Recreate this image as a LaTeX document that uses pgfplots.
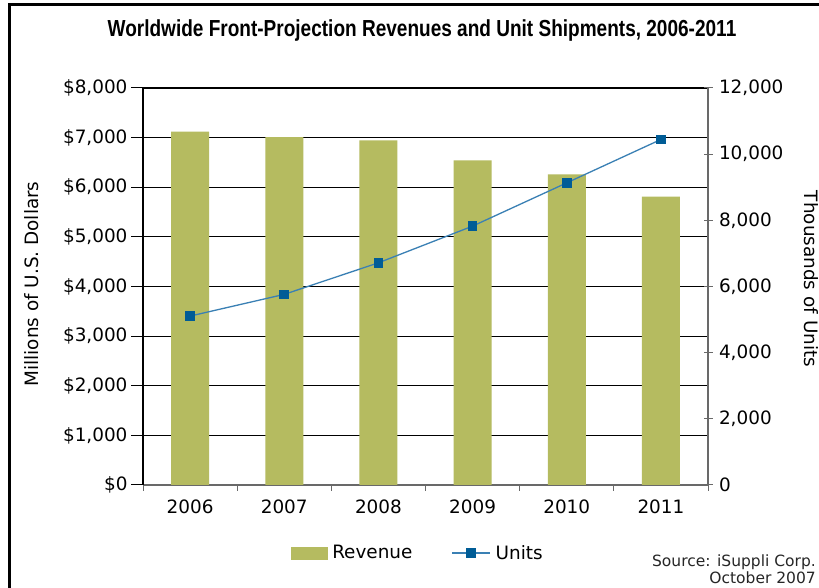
\documentclass[border=0pt]{standalone}
\usepackage{pgfplots}
\pgfplotsset{compat=1.18}
\usepackage{fontspec}
\setmainfont{DejaVu Sans}
\newfontfamily\titlefont{Liberation Sans}
\definecolor{barc}{RGB}{181,187,96}
\definecolor{linec}{RGB}{58,128,180}
\definecolor{markc}{RGB}{0,92,150}
\definecolor{axgray}{RGB}{105,105,105}
\pgfplotstableread{
x rev units
0 7120 5106
1 7010 5762
2 6946 6716
3 6543 7825
4 6261 9133
5 5810 10444
}\datatable
\begin{document}
\begin{tikzpicture}[x=1pt,y=1pt]
\useasboundingbox (0,0) rectangle (819,588);
\fill[white] (0,0) rectangle (819,588);
\draw[line width=3pt] (9,0) -- (9,583) -- (819,583);
\node at (422,557) {\scalebox{0.82}[1]{\titlefont\bfseries\fontsize{23.2}{23}\selectfont Worldwide Front-Projection Revenues and Unit Shipments, 2006-2011}};
\begin{axis}[
  at={(143pt,103pt)}, anchor=south west, scale only axis,
  width=565pt, height=397pt,
  xmin=-0.5, xmax=5.5, ymin=0, ymax=8000,
  axis x line*=bottom, axis y line*=left,
  axis line style={-, line width=1.2pt},
  x axis line style={axgray},
  y axis line style={black},
  xtick={-0.5,0.5,...,5.5}, xticklabels={},
  xtick style={axgray, line width=1pt, /pgfplots/tick align=outside, /pgfplots/major tick length=6pt},
  extra x ticks={0,1,2,3,4,5},
  extra x tick labels={2006,2007,2008,2009,2010,2011},
  extra x tick style={major tick length=0pt, tick style={draw=none}},
  ytick={0,1000,...,8000},
  ytick style={black, line width=1pt},
  tick align=outside, major tick length=12pt,
  ymajorgrids, grid style={black, line width=1.1pt},
  yticklabel={\$\pgfmathprintnumber{\tick}},
  scaled y ticks=false,
  /pgf/number format/.cd, fixed, precision=0, 1000 sep={,}, assume math mode=true,
  /pgfplots/.cd,
  tick label style={font=\fontsize{18.4}{22}\selectfont},
  xticklabel style={yshift=-11pt},
  ybar, bar width=38pt, bar shift=0pt,
]
\addplot[fill=barc, draw=none] table[x=x, y=rev] {\datatable};
\end{axis}
\begin{axis}[
  at={(143pt,103pt)}, anchor=south west, scale only axis,
  width=565pt, height=397pt,
  xmin=-0.5, xmax=5.5, ymin=0, ymax=12000,
  axis x line=none, axis y line*=right,
  axis line style={-, axgray, line width=1.4pt},
  ytick={0,2000,...,12000},
  ytick style={axgray, line width=1pt},
  tick align=center, major tick length=9pt,
  scaled y ticks=false,
  yticklabel={\pgfmathprintnumber{\tick}},
  /pgf/number format/.cd, fixed, precision=0, 1000 sep={,}, assume math mode=true,
  /pgfplots/.cd,
  tick label style={font=\fontsize{18.4}{22}\selectfont},
  yticklabel style={xshift=3pt},
  legend style={at={(0.489,-0.171)}, anchor=center, draw=none, fill=none,
    font=\fontsize{18.4}{22}\selectfont, /tikz/every even column/.append style={column sep=34pt},
    nodes={inner xsep=5pt}},
  legend columns=2,
  legend cell align=left,
]
\addlegendimage{legend image code/.code={\fill[barc] (0pt,-6pt) rectangle (36pt,6pt);}}
\addlegendentry{Revenue}
\addplot[linec, line width=1.3pt, mark=square*, mark size=4.2pt, mark options={fill=markc, draw=markc},
  legend image code/.code={\draw[linec, line width=1.3pt] (0pt,0pt) -- (38pt,0pt); \fill[markc] (15pt,-4.2pt) rectangle (23.4pt,4.2pt);}]
  table[x=x, y=units] {\datatable};
\addlegendentry{Units}
\end{axis}
\node[rotate=90, font=\fontsize{18.4}{22}\selectfont] at (32,304) {Millions of U.S. Dollars};
\node[rotate=-90, font=\fontsize{18.4}{22}\selectfont] at (811,309) {Thousands of Units};
\node[anchor=north east, align=right, text=black!85, inner sep=0pt, font=\fontsize{15.5}{17}\selectfont] at (816,33) {Source: iSuppli Corp.\\October 2007};
\end{tikzpicture}
\end{document}
